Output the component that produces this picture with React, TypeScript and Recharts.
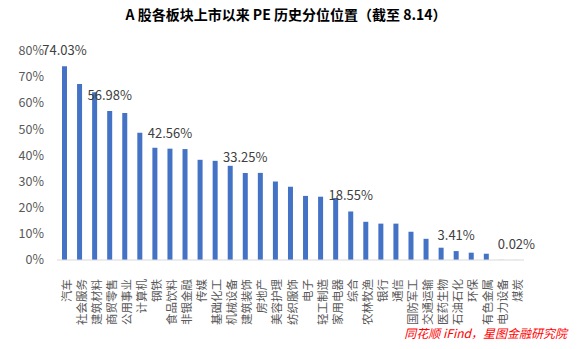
import React from "react";
import { Bar, BarChart, LabelList, XAxis, YAxis } from "recharts";

const sectors = [
  "汽车", "社会服务", "建筑材料", "商贸零售", "公用事业", "计算机", "钢铁", "食品饮料",
  "非银金融", "传媒", "基础化工", "机械设备", "建筑装饰", "房地产", "美容护理", "纺织服饰",
  "电子", "轻工制造", "家用电器", "综合", "农林牧渔", "银行", "通信", "国防军工",
  "交通运输", "医药生物", "石油石化", "环保", "有色金属", "电力设备", "煤炭",
];

const percentiles = [
  74.03, 67.3, 64.1, 56.98, 56.2, 48.6, 42.9, 42.56,
  42.4, 38.3, 37.9, 36.0, 33.25, 33.3, 30.0, 28.0,
  24.5, 24.2, 23.7, 18.55, 14.6, 13.9, 13.9, 10.8,
  8.1, 4.7, 3.41, 2.8, 2.4, 0.05, 0.02,
];

const labelled = [0, 3, 7, 12, 19, 26, 30];

const yTicks = [0, 10, 20, 30, 40, 50, 60, 70, 80];

const data = sectors.map((name, i) => ({ name, value: percentiles[i] }));

const font = '"Noto Sans CJK SC", "Noto Sans", sans-serif';

function SectorTick({ x, y, payload }: any) {
  const ty = y + 11;
  return (
    <text
      x={x + 1}
      y={ty}
      transform={`rotate(-90, ${x + 1}, ${ty})`}
      textAnchor="end"
      dominantBaseline="central"
      fontSize={11.5}
      fill="#595959"
      fontFamily={font}
    >
      {payload.value}
    </text>
  );
}

function ValueLabel({ x, y, width, value, index }: any) {
  if (!labelled.includes(index)) return null;
  return (
    <text
      x={x + width / 2}
      y={y - 11}
      textAnchor="middle"
      fontSize={13}
      fill="#404040"
      fontFamily={font}
    >
      {`${Number(value).toFixed(2)}%`}
    </text>
  );
}

export default function App() {
  return (
    <div style={{ position: "absolute", left: 0, top: 0, width: 581, height: 349, background: "#fff" }}>
      <div
        style={{
          position: "absolute",
          left: 0,
          width: 572,
          top: 4,
          textAlign: "center",
          fontFamily: font,
          fontWeight: 700,
          fontSize: 14,
          color: "#000",
        }}
      >
        A 股各板块上市以来 PE 历史分位位置（截至 8.14）
      </div>
      <BarChart
        width={581}
        height={349}
        data={data}
        margin={{ top: 50.7, right: 57, bottom: 0, left: 0 }}
      >
        <XAxis
          dataKey="name"
          interval={0}
          height={89}
          tickLine={false}
          axisLine={{ stroke: "#d9d9d9" }}
          tick={<SectorTick />}
        />
        <YAxis
          width={57}
          domain={[0, 80]}
          ticks={yTicks}
          tickFormatter={(v) => `${v}%`}
          axisLine={false}
          tickLine={false}
          tickSize={0}
          tickMargin={13}
          tick={{ fontSize: 12.5, fill: "#595959", fontFamily: font }}
        />
        <Bar dataKey="value" fill="#4472C4" barSize={5} isAnimationActive={false}>
          <LabelList dataKey="value" content={<ValueLabel />} />
        </Bar>
      </BarChart>
      <div
        style={{
          position: "absolute",
          right: 14,
          top: 324,
          fontFamily: font,
          fontStyle: "italic",
          fontSize: 12,
          color: "#ff0000",
        }}
      >
        同花顺 iFind，星图金融研究院
      </div>
    </div>
  );
}
